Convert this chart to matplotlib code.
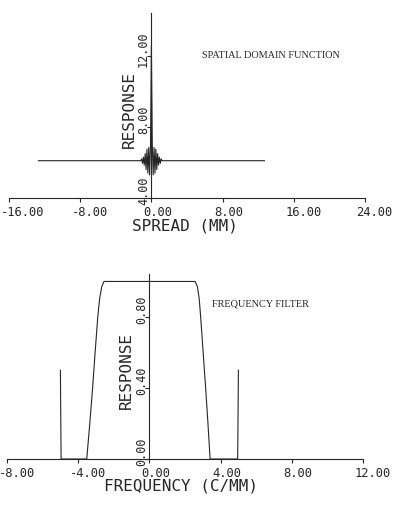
import matplotlib
matplotlib.use("Agg")
import matplotlib.pyplot as plt
import matplotlib.transforms as mtransforms

# ---------------- data ----------------
# Spatial domain function (top panel)
spread_mm = [-12.7, -1.2, -1.1, -1.0, -0.9, -0.8, -0.7, -0.6, -0.5, -0.4, -0.3, -0.2, -0.1,
             0.0, 0.1, 0.2, 0.3, 0.4, 0.5, 0.6, 0.7, 0.8, 0.9, 1.0, 1.1, 1.2, 12.7]
spatial_resp = [6.1, 6.1, 6.2, 5.95, 6.3, 5.85, 6.5, 5.6, 6.75, 5.4, 6.85, 5.3, 7.0,
                12.6, 7.0, 5.3, 6.85, 5.4, 6.75, 5.6, 6.5, 5.85, 6.3, 5.95, 6.2, 6.1, 6.1]

# Frequency filter (bottom panel)
freq = [-5.0, -4.96, -3.52, -3.35, -3.19, -3.05, -2.9, -2.8, -2.68, -2.55,
        2.57, 2.7, 2.8, 2.88, 3.02, 3.16, 3.29, 3.41, 4.96, 5.0]
filt = [0.5, 0.0, 0.0, 0.2, 0.4, 0.6, 0.8, 0.9, 0.97, 1.0,
        1.0, 0.97, 0.9, 0.8, 0.6, 0.4, 0.2, 0.0, 0.0, 0.5]

top_xticks = [-16, -8, 0, 8, 16, 24]
top_yticks = [4, 8, 12]
bot_xticks = [-8, -4, 0, 4, 8, 12]
bot_yticks = [0.0, 0.4, 0.8]

W, H = 404, 506
DPI = 100
INK = "#262626"
MONO = "DejaVu Sans Mono"

fig = plt.figure(figsize=(W / DPI, H / DPI), dpi=DPI)
fig.patch.set_facecolor("white")


def make_axes(left_px, bottom_px, right_px, top_px):
    return fig.add_axes([left_px / W, 1 - bottom_px / H,
                         (right_px - left_px) / W, (bottom_px - top_px) / H])


def style(ax, xticks, yticks, xlim, ylim, xlabel, ylabel, xlab_pos, ylab_pos):
    ax.set_xlim(*xlim)
    ax.set_ylim(*ylim)
    ax.patch.set_visible(False)
    for s in ("top", "right"):
        ax.spines[s].set_visible(False)
    ax.spines["left"].set_position(("data", 0))
    for s in ("left", "bottom"):
        ax.spines[s].set_color(INK)
        ax.spines[s].set_linewidth(0.8)
    ax.set_xticks(xticks)
    ax.set_xticklabels([f"{v:.2f}" for v in xticks], fontfamily=MONO,
                       fontsize=8.7, color=INK, ha="left")
    ax.set_yticks(yticks)
    ax.set_yticklabels([f"{v:.2f}" for v in yticks], fontfamily=MONO,
                       fontsize=8.5, color=INK, rotation=90, va="center", ha="right")
    ax.tick_params(axis="x", direction="out", length=3, width=0.8, color=INK, pad=2)
    ax.tick_params(axis="y", direction="out", length=3, width=0.8, color=INK, pad=0.5)
    off = mtransforms.ScaledTranslation(-8.5 / DPI, 0, fig.dpi_scale_trans)
    for lab in ax.get_xticklabels():
        lab.set_transform(lab.get_transform() + off)
    offy = mtransforms.ScaledTranslation(3.5 / DPI, 8 / DPI, fig.dpi_scale_trans)
    for lab in ax.get_yticklabels():
        lab.set_transform(lab.get_transform() + offy)
    ax.set_xlabel(xlabel, fontfamily=MONO, fontsize=11.5, color=INK, va="center")
    ax.xaxis.set_label_coords(*xlab_pos)
    ax.set_ylabel(ylabel, fontfamily=MONO, fontsize=11.5, color=INK, va="center")
    ax.yaxis.set_label_coords(*ylab_pos)


# ---------------- top panel ----------------
ax1 = make_axes(9, 199, 365, 14)
ax1.plot(spread_mm, spatial_resp, color=INK, lw=0.8)
style(ax1, top_xticks, top_yticks, (-16, 24), (4, 14.42),
      "SPREAD (MM)", "RESPONSE", (0.493, -0.145), (0.337, 0.486))
ax1.text(0.542, 0.778, "SPATIAL DOMAIN FUNCTION", transform=ax1.transAxes,
         fontfamily="Liberation Serif", fontsize=7.4, color=INK, ha="left", va="center")

# ---------------- bottom panel ----------------
ax2 = make_axes(7, 460, 363, 275)
ax2.plot(freq, filt, color=INK, lw=0.8)
style(ax2, bot_xticks, bot_yticks, (-8, 12), (0, 1.042),
      "FREQUENCY (C/MM)", "RESPONSE", (0.49, -0.142), (0.336, 0.486))
ax2.text(0.576, 0.843, "FREQUENCY FILTER", transform=ax2.transAxes,
         fontfamily="Liberation Serif", fontsize=7.4, color=INK, ha="left", va="center")

fig.savefig("out.png", dpi=DPI, facecolor="white")
